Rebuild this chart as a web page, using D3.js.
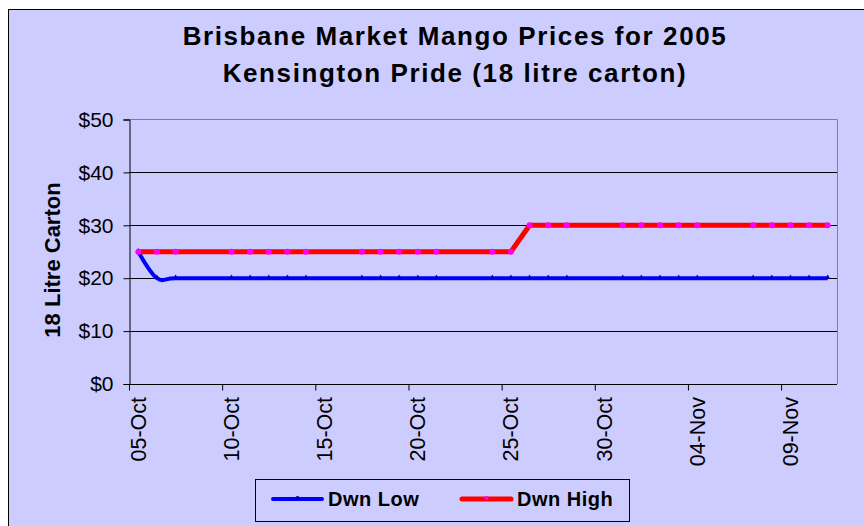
<!DOCTYPE html>
<html lang="en">
<head>
	<meta charset="UTF-8">
	<title>Brisbane Market Mango Prices for 2005</title>
	<style>
		html, body {
			margin: 0;
			background: #fff;
			font-family: 'Liberation Sans', Arial, sans-serif;
		}
		svg text {
			fill: #000;
		}
	</style>
	<script src="https://cdn.jsdelivr.net/npm/d3@7/dist/d3.min.js"></script>
</head>
<body>
	<svg id="chart"></svg>
	<script>
		// trading days (weekdays only)
		const dates = [
			'2005-10-05', '2005-10-06', '2005-10-07', '2005-10-10', '2005-10-11', '2005-10-12', '2005-10-13',
			'2005-10-14', '2005-10-17', '2005-10-18', '2005-10-19', '2005-10-20', '2005-10-21', '2005-10-24',
			'2005-10-25', '2005-10-26', '2005-10-27', '2005-10-28', '2005-10-31', '2005-11-01', '2005-11-02',
			'2005-11-03', '2005-11-04', '2005-11-07', '2005-11-08', '2005-11-09', '2005-11-10', '2005-11-11',
		];
		const dwnLow = [25, 20, 20, 20, 20, 20, 20, 20, 20, 20, 20, 20, 20, 20, 20, 20, 20, 20, 20, 20, 20, 20, 20, 20, 20, 20, 20, 20];
		const dwnHigh = [25, 25, 25, 25, 25, 25, 25, 25, 25, 25, 25, 25, 25, 25, 25, 30, 30, 30, 30, 30, 30, 30, 30, 30, 30, 30, 30, 30];
		const yTicks = [0, 10, 20, 30, 40, 50];
		const axisStart = '2005-10-05';
		const axisEnd = '2005-11-12';
		const titleLines = ['Brisbane Market Mango Prices for 2005', 'Kensington Pride (18 litre carton)'];
		const yTitle = '18 Litre Carton';
		const seriesNames = ['Dwn Low', 'Dwn High'];

		const W = 864, H = 526;
		const bg = '#CCCCFF';
		const plot = { left: 129, right: 837, top: 119.5, bottom: 384 };
		const font = "'Liberation Sans', Arial, sans-serif";

		const parse = d3.timeParse('%Y-%m-%d');
		const svg = d3.select('#chart').attr('width', W).attr('height', H);

		// chart area (cut off at right / bottom like the source)
		svg.append('rect')
			.attr('x', 8.5).attr('y', 9.5)
			.attr('width', W + 20).attr('height', H + 20)
			.attr('fill', bg).attr('stroke', '#000').attr('stroke-width', 1);

		const x = d3.scaleTime()
			.domain([parse(axisStart), parse(axisEnd)])
			.range([plot.left, plot.right]);
		const y = d3.scaleLinear()
			.domain([0, 50])
			.range([plot.bottom, plot.top]);

		// points sit in the middle of each day
		const mid = d => d3.timeHour.offset(parse(d), 12);

		// gridlines
		svg.append('g')
			.selectAll('line')
			.data(yTicks.filter(v => v > 0 && v < 50))
			.join('line')
			.attr('x1', plot.left).attr('x2', plot.right)
			.attr('y1', d => Math.round(y(d)) + 0.5).attr('y2', d => Math.round(y(d)) + 0.5)
			.attr('stroke', '#000');

		// plot border (grey top / right)
		svg.append('path')
			.attr('d', `M${plot.left},${plot.top}H${plot.right + 0.5}V${plot.bottom}`)
			.attr('fill', 'none').attr('stroke', '#808080');

		// y axis
		const yAxis = svg.append('g')
			.attr('transform', `translate(${plot.left + 0.5},0)`)
			.call(d3.axisLeft(y).tickValues(yTicks).tickSize(6).tickPadding(10).tickFormat(d => '$' + d));
		yAxis.select('.domain').attr('stroke', '#000');
		yAxis.selectAll('.tick line').attr('stroke', '#000');
		yAxis.selectAll('text').attr('font-family', font).attr('font-size', 21).attr('fill', '#000');

		// x axis
		const tickDates = d3.timeDay.range(parse(axisStart), parse(axisEnd), 5);
		const xAxis = svg.append('g')
			.attr('transform', `translate(0,${plot.bottom + 0.5})`)
			.call(d3.axisBottom(x).tickValues(tickDates).tickSize(6).tickFormat(''));
		xAxis.select('.domain').attr('stroke', '#000').attr('d', `M${plot.left},0H${plot.right}`);
		xAxis.selectAll('.tick line').attr('stroke', '#000');

		const fmt = d3.timeFormat('%d-%b');
		svg.append('g')
			.selectAll('text')
			.data(tickDates)
			.join('text')
			.attr('transform', d => `translate(${x(d3.timeHour.offset(d, 12))},397) rotate(-90)`)
			.attr('text-anchor', 'end')
			.attr('dy', '0.35em')
			.attr('font-family', font).attr('font-size', 21.5)
			.text(d => fmt(d));

		// lines
		const lowLine = d3.line()
			.x((d, i) => x(mid(dates[i])))
			.y(d => y(d))
			.curve(d3.curveCatmullRom.alpha(0));
		const highLine = d3.line()
			.x((d, i) => x(mid(dates[i])))
			.y(d => y(d));

		svg.append('path')
			.attr('d', lowLine(dwnLow))
			.attr('fill', 'none').attr('stroke', '#0000FF').attr('stroke-width', 4)
			.attr('stroke-linejoin', 'round');
		svg.append('g')
			.selectAll('path')
			.data(dwnLow)
			.join('path')
			.attr('transform', (d, i) => `translate(${x(mid(dates[i]))},${y(d) - 1})`)
			.attr('d', d3.symbol(d3.symbolTriangle, 10))
			.attr('fill', '#0000B0');

		svg.append('path')
			.attr('d', highLine(dwnHigh))
			.attr('fill', 'none').attr('stroke', '#FF0000').attr('stroke-width', 5)
			.attr('stroke-linejoin', 'round');
		svg.append('g')
			.selectAll('circle')
			.data(dwnHigh)
			.join('circle')
			.attr('cx', (d, i) => x(mid(dates[i])))
			.attr('cy', d => y(d))
			.attr('r', 3)
			.attr('fill', '#FF00FF');

		// titles
		svg.append('text')
			.attr('text-anchor', 'middle')
			.attr('font-family', font).attr('font-size', 26).attr('font-weight', 'bold')
			.attr('letter-spacing', 1.6)
			.selectAll('tspan')
			.data(titleLines)
			.join('tspan')
			.attr('x', 455)
			.attr('y', (d, i) => 45 + i * 37)
			.text(d => d);

		svg.append('text')
			.attr('transform', 'translate(60,260) rotate(-90)')
			.attr('text-anchor', 'middle')
			.attr('font-family', font).attr('font-size', 22).attr('font-weight', 'bold')
			.text(yTitle);

		// legend
		const legend = svg.append('g');
		legend.append('rect')
			.attr('x', 255.5).attr('y', 479.5).attr('width', 374).attr('height', 42)
			.attr('fill', bg).attr('stroke', '#000');
		const legendItems = [
			{ name: seriesNames[0], color: '#0000FF', x: 273, marker: '#0000B0', w: 4 },
			{ name: seriesNames[1], color: '#FF0000', x: 462, marker: '#FF00FF', w: 5 },
		];
		legendItems.forEach(item => {
			legend.append('line')
				.attr('x1', item.x).attr('x2', item.x + 49)
				.attr('y1', 499).attr('y2', 499)
				.attr('stroke', item.color).attr('stroke-width', item.w).attr('stroke-linecap', 'round');
			legend.append('circle')
				.attr('cx', item.x + 24.5).attr('cy', 498).attr('r', 2)
				.attr('fill', item.marker);
			legend.append('text')
				.attr('x', item.x + 55).attr('y', 506)
				.attr('font-family', font).attr('font-size', 20).attr('font-weight', 'bold')
				.attr('letter-spacing', 0.5)
				.text(item.name);
		});
	</script>
</body>
</html>
